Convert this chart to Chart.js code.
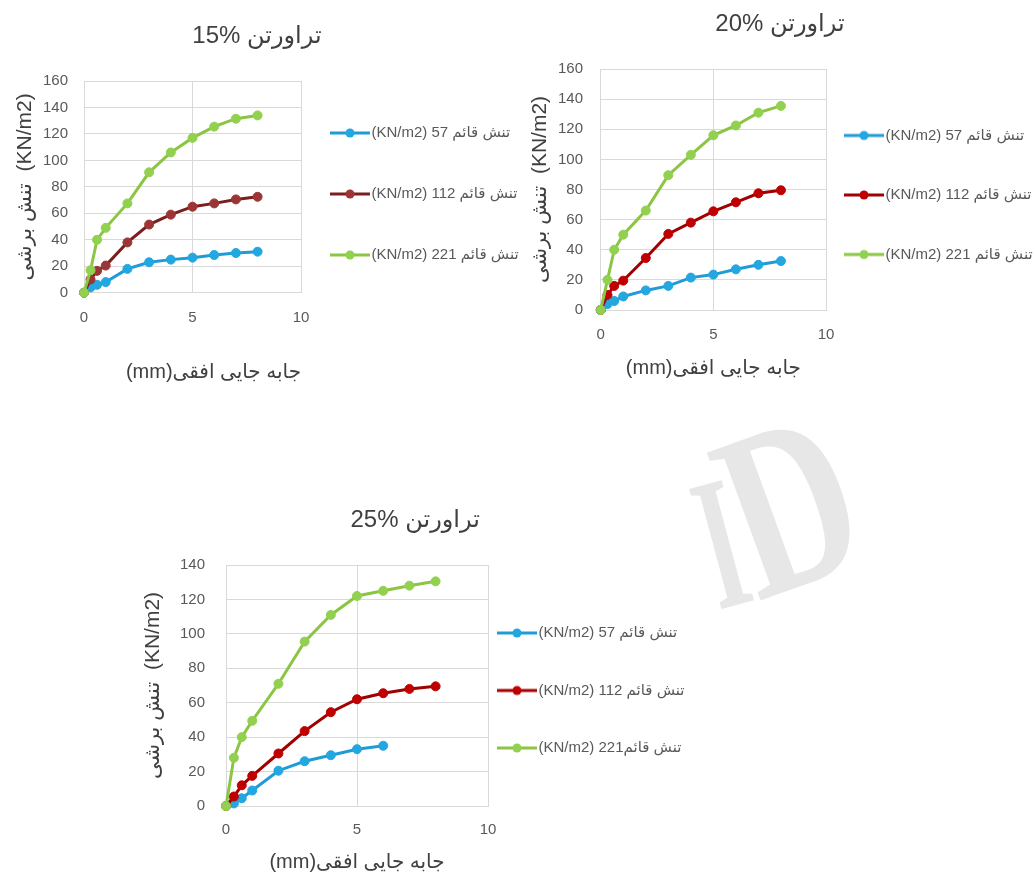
<!DOCTYPE html>
<html>
<head>
<meta charset="utf-8">
<script src="https://cdn.jsdelivr.net/npm/chart.js@4.4.1/dist/chart.umd.min.js"></script>
<style>
	html, body { margin: 0; padding: 0; background: #fff; width: 1034px; height: 875px; overflow: hidden; }
	body { position: relative; }
	canvas { position: absolute; }
	.mark { position: absolute; color: #e7e7e7; font-family: 'Liberation Serif', serif; font-weight: bold; line-height: 1; }
</style>
</head>
<body>
<div class="mark" style="left:684px; top:448px; font-size:190px; transform: rotate(-15deg) scaleX(0.55)">I</div>
<div class="mark" style="left:702px; top:384px; font-size:240px; transform: rotate(-20deg) scaleX(0.72)">D</div>
<canvas id="c15" width="526" height="388" style="left:-6px; top:0"></canvas>
<canvas id="c20" width="508" height="384" style="left:526px; top:0"></canvas>
<canvas id="c25" width="564" height="405" style="left:136px; top:470px"></canvas>
<script>
var family = "'Liberation Sans', 'DejaVu Sans', sans-serif"

// horizontal displacement (mm) of each reading
var disp = [0, 0.3, 0.6, 1, 2, 3, 4, 5, 6, 7, 8]
var dispShort = [0, 0.3, 0.6, 1, 2, 3, 4, 5, 6]

// shear stress (KN/m2)
var shear15_57 = [0, 4, 6, 8, 18, 23, 25, 26.5, 28.5, 30, 31]
var shear15_112 = [0, 10, 16.5, 20.5, 38, 51.5, 59, 65, 67.5, 70.5, 72.5]
var shear15_221 = [0, 17, 40, 49, 67.5, 91, 106, 117, 125.5, 131.5, 134]

var shear20_57 = [0, 4, 6, 9, 13, 16, 21.5, 23.5, 27, 30, 32.5]
var shear20_112 = [0, 10, 16, 19.5, 34.5, 50.5, 58, 65.5, 71.5, 77.5, 79.5]
var shear20_221 = [0, 20, 40, 50, 66, 89.5, 103, 116, 122.5, 131, 135.5]

var shear25_57 = [0, 1.5, 4.5, 9, 20.5, 26, 29.5, 33, 35]
var shear25_112 = [0, 5.5, 12, 17.5, 30.5, 43.5, 54.5, 62, 65.5, 68, 69.5]
var shear25_221 = [0, 28, 40, 49.5, 71, 95.5, 111, 122, 125, 128, 130.5]

var xMax = 10
var xStep = 5
var yStep = 20

var titles = ['15% تراورتن', '20% تراورتن', '25% تراورتن']
var seriesNames = ['(KN/m2) 57 تنش قائم', '(KN/m2) 112 تنش قائم', '(KN/m2) 221 تنش قائم']
var seriesNames25 = ['(KN/m2) 57 تنش قائم', '(KN/m2) 112 تنش قائم', '(KN/m2) 221تنش قائم']
var xTitle = '(mm)جابه جایی افقی'
var yTitle = 'تنش برشی  (KN/m2)'

var blue = {line: '#1f9bd7', dot: '#22a7e0'}
var green = {line: '#8cc544', dot: '#92d050'}
var brown = {line: '#7a1e1e', dot: '#9c3636'}
var red = {line: '#a00000', dot: '#c00000'}

var legendSize = 15

function legendMarker(c) {
	var m = document.createElement('canvas')
	m.width = 48
	m.height = 12
	var ctx = m.getContext('2d')
	ctx.strokeStyle = c.line
	ctx.lineWidth = 3
	ctx.beginPath()
	ctx.moveTo(8, 6)
	ctx.lineTo(48, 6)
	ctx.stroke()
	ctx.fillStyle = c.dot
	ctx.beginPath()
	ctx.arc(28, 6, 4.5, 0, Math.PI * 2)
	ctx.fill()
	return m
}

function makeChart(id, cfg) {
	var canvas = document.getElementById(id)
	var g = cfg.geo
	var markers = cfg.colors.map(legendMarker)

	// the legend decides where the plot ends on the right, so size it from the text
	var ctx = canvas.getContext('2d')
	ctx.font = legendSize + 'px ' + family
	var widest = Math.max.apply(null, cfg.names.map(function(t) { return ctx.measureText(t).width }))
	var legendTarget = canvas.width - g.plotRight
	var legendNatural = g.legendPad + 36 + legendSize / 2 + widest + 10
	var padRight = Math.max(0, legendTarget - legendNatural)

	var datasets = cfg.series.map(function(s, i) {
		return {
			label: cfg.names[i],
			data: s.x.map(function(x, j) { return {x: x, y: s.y[j]} }),
			borderColor: cfg.colors[i].line,
			backgroundColor: cfg.colors[i].dot,
			pointBackgroundColor: cfg.colors[i].dot,
			pointBorderColor: cfg.colors[i].dot,
			pointRadius: 4.5,
			pointHoverRadius: 4.5,
			pointBorderWidth: 1,
			borderWidth: 3,
			tension: 0,
			clip: false,
			order: cfg.series.length - i
		}
	})

	var tickFont = {family: family, size: 15}
	new Chart(canvas, {
		type: 'line',
		data: {datasets: datasets},
		options: {
			responsive: false,
			animation: false,
			layout: {padding: {left: 0, top: 0, bottom: 0, right: padRight}},
			plugins: {
				tooltip: {enabled: false},
				title: {
					display: true,
					text: cfg.title,
					color: '#404040',
					font: {family: family, size: 24, weight: 'normal'},
					padding: {top: g.titleTop, bottom: g.titleBottom}
				},
				legend: {
					position: 'right',
					maxWidth: legendTarget,
					title: {display: true, text: ' ', font: {size: 1}, padding: g.legendShift},
					labels: {
						usePointStyle: true,
						pointStyleWidth: 36,
						padding: g.legendPad,
						color: '#595959',
						font: {family: family, size: legendSize, lineHeight: g.legendLine / legendSize},
						sort: function(a, b) { return a.datasetIndex - b.datasetIndex },
						generateLabels: function(chart) {
							var items = Chart.defaults.plugins.legend.labels.generateLabels(chart)
							items.forEach(function(item) {
								item.pointStyle = markers[item.datasetIndex]
								item.text = [item.text]
							})
							return items
						}
					}
				}
			},
			scales: {
				x: {
					type: 'linear',
					min: 0,
					max: xMax,
					ticks: {stepSize: xStep, padding: g.xTickPad, color: '#595959', font: tickFont},
					grid: {color: '#d9d9d9', drawTicks: false},
					border: {color: '#d9d9d9'},
					title: {
						display: true,
						text: xTitle,
						align: cfg.xTitleAlign || 'center',
						color: '#404040',
						font: {family: family, size: 20},
						padding: {top: g.xTitleTop, bottom: g.xTitleBottom}
					}
				},
				y: {
					min: 0,
					max: cfg.yMax,
					ticks: {stepSize: yStep, padding: g.yTickPad, color: '#595959', font: tickFont},
					grid: {color: '#d9d9d9', drawTicks: false},
					border: {color: '#d9d9d9'},
					title: {
						display: true,
						text: yTitle,
						color: '#404040',
						font: {family: family, size: 21},
						padding: {top: g.yTitleOuter, bottom: g.yTitleInner}
					}
				}
			}
		}
	})
}

makeChart('c15', {
	title: titles[0],
	names: seriesNames,
	xTitleAlign: 'end',
	yMax: 160,
	colors: [blue, brown, green],
	series: [
		{x: disp, y: shear15_57},
		{x: disp, y: shear15_112},
		{x: disp, y: shear15_221}
	],
	geo: {plotRight: 307, titleTop: 21.6, titleBottom: 30.6, xTickPad: 16, xTitleTop: 17.3, xTitleBottom: 4,
		yTickPad: 16, yTitleOuter: 18.4, yTitleInner: -10.6, legendPad: 27, legendLine: 34, legendShift: 8.9}
})

makeChart('c20', {
	title: titles[1],
	names: seriesNames,
	yMax: 160,
	colors: [blue, red, green],
	series: [
		{x: disp, y: shear20_57},
		{x: disp, y: shear20_112},
		{x: disp, y: shear20_221}
	],
	geo: {plotRight: 300, titleTop: 9.6, titleBottom: 30.6, xTickPad: 16, xTitleTop: -4, xTitleBottom: 4,
		yTickPad: 17.7, yTitleOuter: 1.4, yTitleInner: -12.3, legendPad: 16, legendLine: 43.5, legendShift: 16.65}
})

makeChart('c25', {
	title: titles[2],
	names: seriesNames25,
	yMax: 140,
	colors: [blue, red, green],
	series: [
		{x: dispShort, y: shear25_57},
		{x: disp, y: shear25_112},
		{x: disp, y: shear25_221}
	],
	geo: {plotRight: 352, titleTop: 35.6, titleBottom: 30.6, xTickPad: 15, xTitleTop: -4, xTitleBottom: 1,
		yTickPad: 21, yTitleOuter: 4.4, yTitleInner: -6.6, legendPad: 7, legendLine: 50.5, legendShift: 35.15}
})
</script>
</body>
</html>
